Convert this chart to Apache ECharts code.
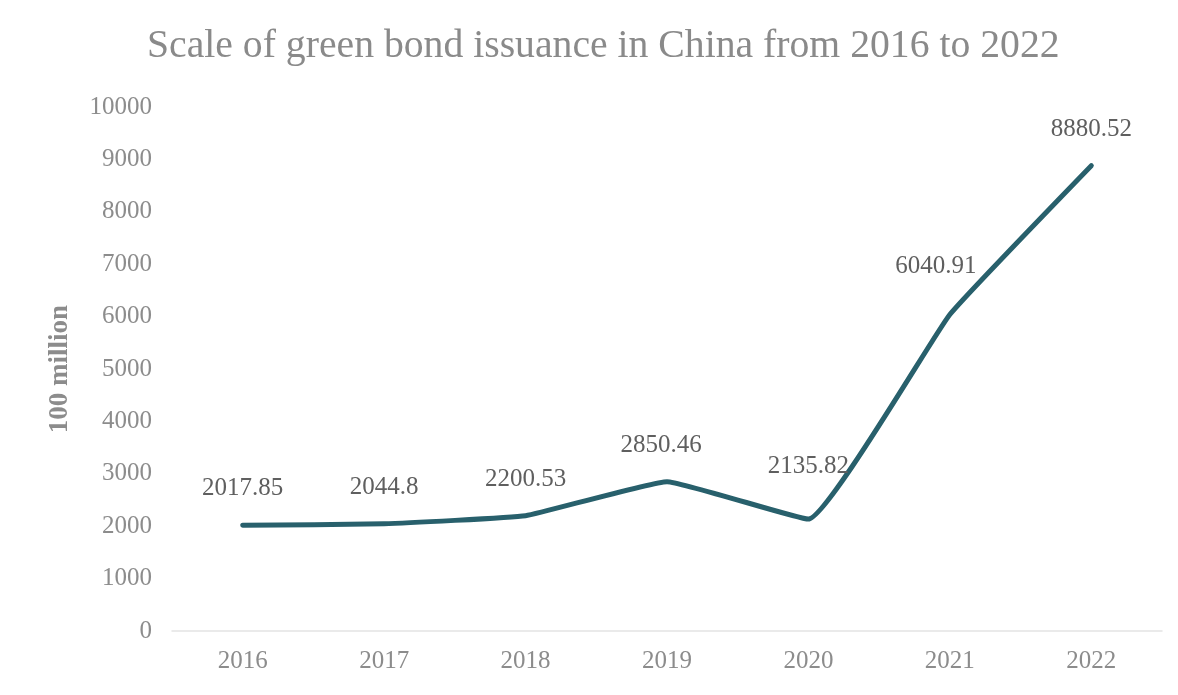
<!DOCTYPE html>
<html>
<head>
<meta charset="utf-8">
<script src="https://cdn.jsdelivr.net/npm/echarts@6/dist/echarts.min.js"></script>
<style>html,body{margin:0;padding:0;background:#fff}#c{width:1178px;height:695px}</style>
</head>
<body>
<div id="c"></div>
<script>
const years = ['2016','2017','2018','2019','2020','2021','2022'];
const issuance = [2017.85, 2044.8, 2200.53, 2850.46, 2135.82, 6040.91, 8880.52];
const yTicks = {min: 0, max: 10000, interval: 1000};

const serif = '"Liberation Serif", "Times New Roman", serif';
const labelOffsets = [[0,0],[0,0],[0,0],[-6,0],[0,-16],[-14,-12],[0,0]];

const chart = echarts.init(document.getElementById('c'), null, {renderer: 'canvas'});
chart.setOption({
  animation: false,
  backgroundColor: '#ffffff',
  title: {
    text: 'Scale of green bond issuance in China from 2016 to 2022',
    left: 142, top: 22,
    textStyle: {fontFamily: serif, fontSize: 39.7, fontWeight: 'normal', color: '#8a8a8a'}
  },
  grid: {left: 172, right: 16, top: 107, bottom: 64},
  xAxis: {
    type: 'category', data: years, boundaryGap: true,
    axisLine: {show: true, lineStyle: {color: '#e3e3e3', width: 1.5}},
    axisTick: {show: false},
    axisLabel: {fontFamily: serif, fontSize: 25, color: '#8c8c8c', margin: 18}
  },
  yAxis: {
    type: 'value', min: yTicks.min, max: yTicks.max, interval: yTicks.interval,
    name: '100 million', nameLocation: 'middle', nameGap: 98, nameRotate: 90,
    nameTextStyle: {fontFamily: serif, fontSize: 27, fontWeight: 'bold', color: '#8c8c8c'},
    axisLine: {show: false}, axisTick: {show: false},
    splitLine: {show: false},
    axisLabel: {fontFamily: serif, fontSize: 25, color: '#8c8c8c', margin: 20, formatter: v => String(v)}
  },
  series: [{
    type: 'line',
    data: issuance.map((v, i) => ({value: v, label: {offset: labelOffsets[i]}})),
    smooth: 0.1,
    showSymbol: true,
    symbol: 'circle',
    symbolSize: 0,
    lineStyle: {color: '#28606c', width: 5, cap: 'round', join: 'round'},
    itemStyle: {color: '#28606c'},
    label: {show: true, position: 'top', distance: 24, fontFamily: serif, fontSize: 25, color: '#5f5f5f'}
  }]
});
</script>
</body>
</html>
